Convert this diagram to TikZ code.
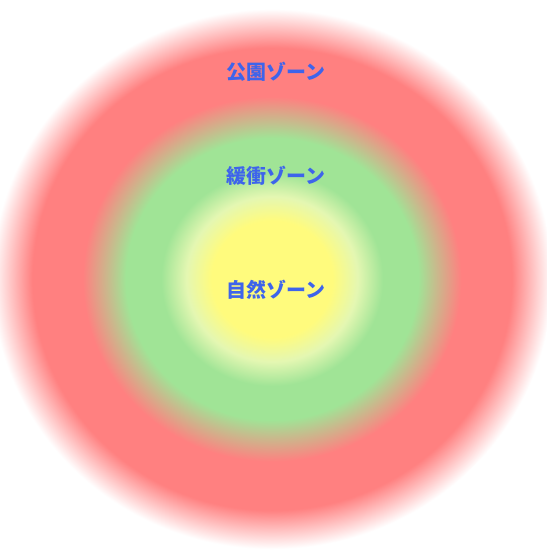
\documentclass[tikz,border=0pt]{standalone}
\usepackage{fontspec}
\newfontfamily\cjk{Noto Sans CJK JP}
\definecolor{zoneyellow}{RGB}{255,251,125}
\definecolor{zonepale}{RGB}{228,247,178}
\definecolor{zonegreen}{RGB}{160,228,150}
\definecolor{zonered}{RGB}{255,128,128}
\definecolor{zoneblue}{RGB}{62,100,235}
% the shaded path is fitted into the middle 50bp of the shading
\pgfdeclareradialshading{zones}{\pgfpoint{0bp}{0bp}}{%
  color(0bp)=(zoneyellow); color(5.4bp)=(zoneyellow);
  color(7.65bp)=(zonepale); color(9.9bp)=(zonegreen);
  color(13.05bp)=(zonegreen); color(16.9bp)=(zonered);
  color(21.4bp)=(zonered); color(25bp)=(white); color(50bp)=(white)}

\begin{document}
\begin{tikzpicture}[x=1bp,y=-1bp,
    zonelabel/.style={font=\cjk\bfseries\fontsize{20}{22}\selectfont,text=zoneblue,inner sep=0pt}]
    \useasboundingbox (0,0) rectangle (547,560);
    \fill[white] (0,0) rectangle (547,560);
    \shade[shading=zones] (272,279) ellipse [x radius=280, y radius=270];
    \node[zonelabel] (park) at (276,72) {公園ゾーン};
    \node[zonelabel] (buffer) at (276,176) {緩衝ゾーン};
    \node[zonelabel] (nature) at (276,290) {自然ゾーン};
  \end{tikzpicture}
\end{document}
